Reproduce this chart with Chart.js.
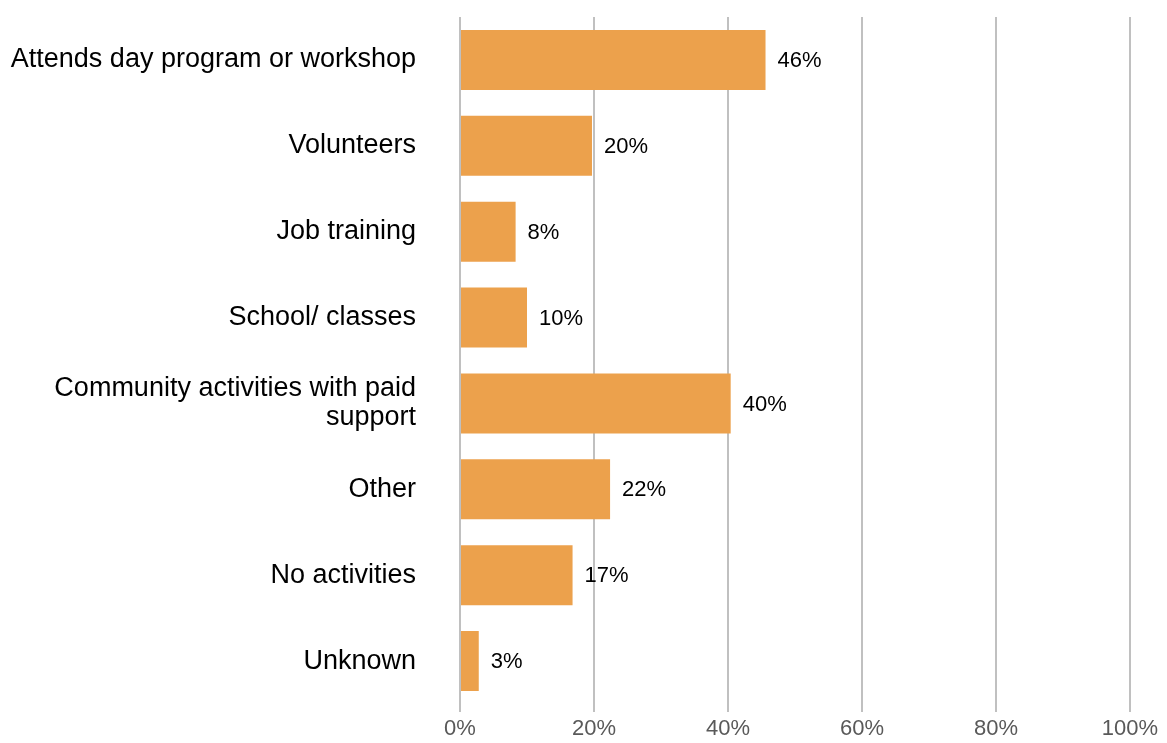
<!DOCTYPE html>
<html>
<head>
<meta charset="utf-8">
<script src="https://cdn.jsdelivr.net/npm/chart.js@4"></script>
<style>
    html, body { margin: 0; padding: 0; background: #fff; }
    #wrap { width: 1167px; height: 743px; }
</style>
</head>
<body>
<div id="wrap"><canvas id="activityChart" width="1167" height="743"></canvas></div>
<script>
// Values
const categories = [
    'Attends day program or workshop',
    'Volunteers',
    'Job training',
    'School/ classes',
    ['Community activities with paid', 'support'],
    'Other',
    'No activities',
    'Unknown'
];
const shares = [45.6, 19.7, 8.3, 10.0, 40.4, 22.4, 16.8, 2.8];
const shareLabels = ['46%', '20%', '8%', '10%', '40%', '22%', '17%', '3%'];
const xTicks = [0, 20, 40, 60, 80, 100];

// draws the value text just past the end of each bar
const barValueLabels = {
    id: 'barValueLabels',
    afterDatasetsDraw(chart) {
        const ctx = chart.ctx;
        const meta = chart.getDatasetMeta(0);
        ctx.save();
        ctx.font = '22px "Liberation Sans", Arial, sans-serif';
        ctx.fillStyle = '#000';
        ctx.textAlign = 'left';
        ctx.textBaseline = 'middle';
        meta.data.forEach((bar, i) => {
            ctx.fillText(shareLabels[i], bar.x + 12, bar.y + 1);
        });
        ctx.restore();
    }
};

const ctx = document.getElementById('activityChart').getContext('2d');
new Chart(ctx, {
    type: 'bar',
    data: {
        labels: categories,
        datasets: [{
            data: shares,
            backgroundColor: '#eca14c',
            borderWidth: 0,
            barPercentage: 0.7,
            categoryPercentage: 1.0
        }]
    },
    options: {
        indexAxis: 'y',
        responsive: false,
        animation: false,
        layout: { padding: { top: 17, right: 37, bottom: 0, left: 0 } },
        plugins: {
            legend: { display: false },
            tooltip: { enabled: false }
        },
        scales: {
            x: {
                min: 0,
                max: 100,
                afterBuildTicks(scale) {
                    scale.ticks = xTicks.map(v => ({ value: v }));
                },
                afterFit(scale) { scale.height = 39; },
                border: { display: false },
                grid: {
                    color: '#c0c0c0',
                    lineWidth: 2,
                    drawTicks: true,
                    tickLength: 8
                },
                ticks: {
                    padding: 4,
                    color: '#595959',
                    font: { family: '"Liberation Sans", Arial, sans-serif', size: 22 },
                    callback: v => v + '%'
                }
            },
            y: {
                afterFit(scale) {
                    scale.width = 460;
                    scale.paddingTop = 0;
                    scale.paddingBottom = 0;
                },
                border: { display: false },
                grid: { display: false, drawTicks: false },
                ticks: {
                    padding: 44,
                    color: '#000',
                    font: { family: '"Liberation Sans", Arial, sans-serif', size: 27, lineHeight: 1.08 }
                }
            }
        }
    },
    plugins: [barValueLabels]
});
</script>
</body>
</html>
